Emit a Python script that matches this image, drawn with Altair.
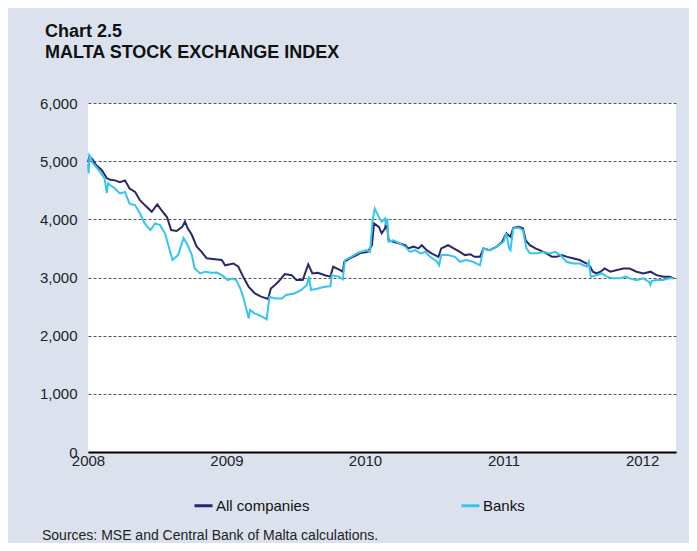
import altair as alt
import pandas as pd

TITLE = "Chart 2.5"
SUBTITLE = "MALTA STOCK EXCHANGE INDEX"
SOURCE = "Sources: MSE and Central Bank of Malta calculations."
SERIES = ["All companies", "Banks"]
COLORS = ["#29276b", "#36c4f1"]
YEAR_TICKS = [2008, 2009, 2010, 2011, 2012]
Y_TICKS = [0, 1000, 2000, 3000, 4000, 5000, 6000]

all_t = [2008.00, 2008.01, 2008.03, 2008.06, 2008.10, 2008.135, 2008.16, 2008.195, 2008.23, 2008.267,
         2008.30, 2008.34, 2008.375, 2008.41, 2008.46, 2008.50, 2008.53, 2008.57, 2008.60, 2008.64,
         2008.68, 2008.70, 2008.72, 2008.75, 2008.785, 2008.82, 2008.857, 2008.917, 2008.965, 2008.99,
         2009.05, 2009.085, 2009.12, 2009.16, 2009.205, 2009.25, 2009.30, 2009.32, 2009.35, 2009.385,
         2009.42, 2009.47, 2009.505, 2009.55, 2009.59, 2009.62, 2009.66, 2009.71, 2009.75, 2009.77,
         2009.81, 2009.84, 2009.85, 2009.89, 2009.94, 2009.96, 2010.02, 2010.05, 2010.065, 2010.10,
         2010.12, 2010.145, 2010.155, 2010.17, 2010.205, 2010.25, 2010.29, 2010.31, 2010.35, 2010.385,
         2010.41, 2010.445, 2010.48, 2010.53, 2010.55, 2010.60, 2010.64, 2010.685, 2010.72, 2010.76,
         2010.79, 2010.83, 2010.855, 2010.90, 2010.95, 2010.99, 2011.02, 2011.05, 2011.07, 2011.11,
         2011.14, 2011.16, 2011.19, 2011.23, 2011.26, 2011.31, 2011.35, 2011.38, 2011.42, 2011.46,
         2011.50, 2011.55, 2011.60, 2011.625, 2011.645, 2011.67, 2011.70, 2011.73, 2011.77, 2011.82,
         2011.865, 2011.91, 2011.96, 2012.01, 2012.06, 2012.105, 2012.155, 2012.20, 2012.23]
all_v = [4980, 5080, 5040, 4930, 4845, 4710, 4680, 4670, 4640, 4670,
         4530, 4470, 4330, 4245, 4130, 4255, 4160, 4040, 3815, 3800,
         3870, 3960, 3845, 3730, 3530, 3440, 3330, 3315, 3300, 3210,
         3240, 3185, 3015, 2840, 2725, 2670, 2630, 2810, 2870, 2955,
         3060, 3040, 2955, 2955, 3225, 3070, 3080, 3040, 3015, 3185,
         3140, 3100, 3270, 3330, 3385, 3415, 3440, 3555, 3930, 3870,
         3760, 3845, 3985, 3640, 3615, 3585, 3555, 3500, 3530, 3500,
         3555, 3470, 3415, 3355, 3500, 3555, 3500, 3440, 3385, 3400,
         3355, 3355, 3500, 3470, 3530, 3615, 3760, 3700, 3855, 3870,
         3845, 3640, 3555, 3500, 3470, 3415, 3355, 3355, 3385, 3355,
         3330, 3300, 3240, 3185, 3100, 3070, 3100, 3155, 3100, 3130,
         3155, 3155, 3100, 3070, 3100, 3040, 3015, 3015, 2985]

bank_t = [2008.00, 2008.005, 2008.01, 2008.02, 2008.03, 2008.06, 2008.087, 2008.12, 2008.135, 2008.145,
          2008.16, 2008.195, 2008.23, 2008.267, 2008.30, 2008.34, 2008.375, 2008.41, 2008.45, 2008.485,
          2008.52, 2008.556, 2008.58, 2008.61, 2008.65, 2008.69, 2008.72, 2008.75, 2008.77, 2008.81,
          2008.845, 2008.89, 2008.93, 2008.965, 2009.01, 2009.04, 2009.07, 2009.10, 2009.12, 2009.16,
          2009.17, 2009.205, 2009.25, 2009.29, 2009.31, 2009.35, 2009.40, 2009.43, 2009.49, 2009.54,
          2009.58, 2009.596, 2009.61, 2009.66, 2009.71, 2009.75, 2009.76, 2009.81, 2009.84, 2009.855,
          2009.90, 2009.95, 2010.01, 2010.036, 2010.055, 2010.07, 2010.10, 2010.12, 2010.145, 2010.15,
          2010.16, 2010.17, 2010.205, 2010.25, 2010.29, 2010.325, 2010.36, 2010.40, 2010.435, 2010.47,
          2010.52, 2010.535, 2010.55, 2010.60, 2010.65, 2010.685, 2010.73, 2010.78, 2010.83, 2010.855,
          2010.90, 2010.95, 2011.00, 2011.02, 2011.04, 2011.05, 2011.07, 2011.11, 2011.14, 2011.165,
          2011.19, 2011.24, 2011.29, 2011.335, 2011.37, 2011.41, 2011.455, 2011.50, 2011.55, 2011.60,
          2011.615, 2011.63, 2011.67, 2011.71, 2011.745, 2011.79, 2011.84, 2011.88, 2011.91, 2011.96,
          2012.01, 2012.05, 2012.06, 2012.07, 2012.105, 2012.15, 2012.20, 2012.23]
bank_v = [4950, 4790, 5100, 5060, 4980, 4900, 4815, 4700, 4450, 4620,
          4590, 4530, 4445, 4470, 4270, 4245, 4100, 3930, 3815, 3930,
          3900, 3760, 3555, 3300, 3385, 3680, 3555, 3385, 3155, 3070,
          3100, 3080, 3085, 3040, 2955, 2980, 2955, 2810, 2670, 2300,
          2440, 2380, 2335, 2280, 2670, 2640, 2640, 2700, 2725, 2785,
          2870, 3015, 2785, 2810, 2840, 2850, 3040, 3015, 2970, 3300,
          3355, 3425, 3470, 3440, 3985, 4185, 4040, 3960, 4015, 3900,
          4015, 3615, 3640, 3585, 3530, 3440, 3470, 3415, 3440, 3355,
          3270, 3210, 3385, 3385, 3355, 3270, 3300, 3270, 3210, 3500,
          3470, 3530, 3615, 3760, 3500, 3470, 3845, 3855, 3815, 3500,
          3415, 3415, 3440, 3415, 3440, 3385, 3270, 3240, 3240, 3185,
          3270, 3015, 3040, 3070, 3015, 2985, 2985, 3015, 2985, 2955,
          2985, 2925, 2870, 2940, 2955, 2955, 2985, 2985]

df = pd.concat([
    pd.DataFrame({"t": all_t, "v": all_v, "series": SERIES[0]}),
    pd.DataFrame({"t": bank_t, "v": bank_v, "series": SERIES[1]}),
])

FONT = "Liberation Sans"

lines = alt.Chart(df).mark_line(strokeWidth=2).encode(
    x=alt.X("t:Q", scale=alt.Scale(domain=[2008, 2012.245], nice=False, zero=False),
            axis=alt.Axis(values=YEAR_TICKS, format="d", title=None, grid=False, ticks=False,
                          domain=True, domainColor="#000000", domainWidth=2,
                          labelFontSize=15, labelFont=FONT, labelColor="#222222",
                          labelPadding=1, labelFlush=False, labelOverlap=False)),
    y=alt.Y("v:Q", scale=alt.Scale(domain=[0, 6000], nice=False),
            axis=alt.Axis(values=Y_TICKS, format=",.0f", title=None, grid=True, ticks=False,
                          domain=False, gridColor="#555555", gridDash=[3, 2], gridWidth=1,
                          labelFontSize=15, labelFont=FONT, labelColor="#222222",
                          labelPadding=11)),
    color=alt.Color("series:N", scale=alt.Scale(domain=SERIES, range=COLORS),
                    legend=alt.Legend(title=None, orient="none", legendX=105, legendY=392,
                                      direction="horizontal", symbolType="stroke",
                                      symbolSize=324, symbolStrokeWidth=3, labelOffset=2,
                                      columnPadding=145, padding=0,
                                      labelFontSize=15, labelFont=FONT, labelColor="#111111")),
    order=alt.Order("t:Q"),
)

title1 = alt.Chart(pd.DataFrame({"s": [TITLE]})).mark_text(
    align="left", baseline="alphabetic", font=FONT, fontSize=18, fontWeight="bold", color="#111111"
).encode(text="s:N", x=alt.value(-43), y=alt.value(-66.5))

title2 = alt.Chart(pd.DataFrame({"s": [SUBTITLE]})).mark_text(
    align="left", baseline="alphabetic", font=FONT, fontSize=18, fontWeight="bold", color="#111111"
).encode(text="s:N", x=alt.value(-43), y=alt.value(-45.5))

source = alt.Chart(pd.DataFrame({"s": [SOURCE]})).mark_text(
    align="left", baseline="alphabetic", font=FONT, fontSize=14, color="#222222"
).encode(text="s:N", x=alt.value(-46), y=alt.value(437))

chart = alt.layer(lines, title1, title2, source).properties(
    width=588, height=349,
    autosize=alt.AutoSizeParams(type="none"),
    padding={"left": 80, "top": 95, "right": 13, "bottom": 91},
    background="#dbe2ee",
).configure_view(fill="white", strokeWidth=0)

chart.save("out.html", embed_options={"renderer": "svg", "actions": False})
